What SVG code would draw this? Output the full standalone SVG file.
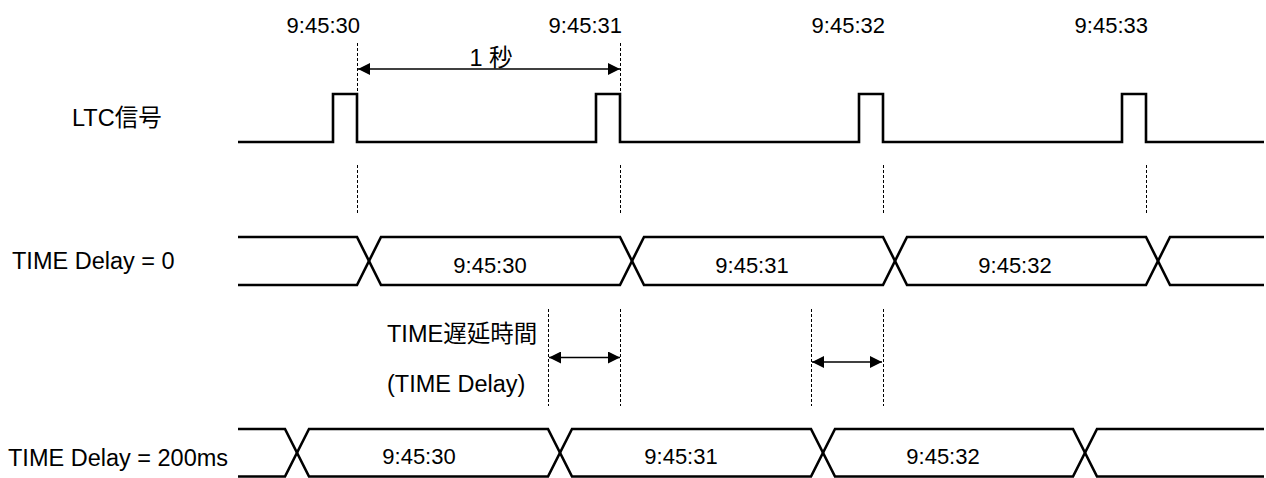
<svg xmlns="http://www.w3.org/2000/svg" width="1266" height="478" viewBox="0 0 1266 478">
  <style>
    text { font-family: "Liberation Sans", "Noto Sans CJK JP", sans-serif; fill: #000; }
    .lbl { font-size: 23.5px; }
    .t { font-size: 22px; }
    .sig { fill: none; stroke: #000; stroke-width: 2.6; stroke-linejoin: miter; }
    .dash { fill: none; stroke: #000; stroke-width: 1; stroke-dasharray: 3 2; }
    .arr { fill: none; stroke: #000; stroke-width: 1.6; marker-start: url(#ah); marker-end: url(#ah); }
  </style>
  <defs>
    <marker id="ah" markerUnits="userSpaceOnUse" markerWidth="12" markerHeight="12" refX="12" refY="6" orient="auto-start-reverse">
      <path d="M0,0 L12,6 L0,12 z" fill="#000"/>
    </marker>
  </defs>
  <rect width="1266" height="478" fill="#fff"/>

  <g id="time-labels" class="t" text-anchor="end">
    <text x="360" y="33">9:45:30</text>
    <text x="622" y="33">9:45:31</text>
    <text x="885" y="33">9:45:32</text>
    <text x="1148" y="33">9:45:33</text>
  </g>

  <g id="ltc">
    <text class="lbl" x="72" y="126">LTC信号</text>
    <path class="sig" d="M238,142 H333 V94 H357 V142 H596 V94 H620 V142 H859 V94 H883 V142 H1122 V94 H1146 V142 H1264"/>
  </g>

  <g id="delay0">
    <text class="lbl" x="12" y="269">TIME Delay = 0</text>
    <path class="sig" d="M238,237 H357 L381,285 H620 L644,237 H883 L907,285 H1146 L1170,237 H1264"/>
    <path class="sig" d="M238,285 H357 L381,237 H620 L644,285 H883 L907,237 H1146 L1170,285 H1264"/>
    <g class="t" text-anchor="middle">
      <text x="490" y="273">9:45:30</text>
      <text x="752" y="273">9:45:31</text>
      <text x="1015" y="273">9:45:32</text>
    </g>
  </g>

  <g id="delay-label" class="lbl">
    <text x="387" y="342">TIME遅延時間</text>
    <text x="387" y="392">(TIME Delay)</text>
  </g>

  <g id="delay200">
    <text class="lbl" x="8" y="466">TIME Delay = 200ms</text>
    <path class="sig" d="M238,429 H285 L309,476.5 H548 L572,429 H811 L835,476.5 H1073 L1097,429 H1264"/>
    <path class="sig" d="M238,476.5 H285 L309,429 H548 L572,476.5 H811 L835,429 H1073 L1097,476.5 H1264"/>
    <g class="t" text-anchor="middle">
      <text x="419" y="464">9:45:30</text>
      <text x="681" y="464">9:45:31</text>
      <text x="943" y="464">9:45:32</text>
    </g>
  </g>

  <g id="connectors">
    <path class="dash" d="M357.5,43 V94 M620.5,43 V94"/>
    <path class="dash" d="M357.5,165 V213 M620.5,165 V213 M883.5,165 V213 M1146.5,165 V213"/>
    <path class="dash" d="M548.5,309 V406 M620.5,309 V406 M811.5,309 V406 M883.5,309 V406"/>
    <line class="arr" x1="358" y1="69" x2="620" y2="69"/>
    <line class="arr" x1="549" y1="357.5" x2="620" y2="357.5"/>
    <line class="arr" x1="812" y1="362" x2="882" y2="362"/>
    <text class="lbl" x="491" y="66" text-anchor="middle">1 秒</text>
  </g>
</svg>
